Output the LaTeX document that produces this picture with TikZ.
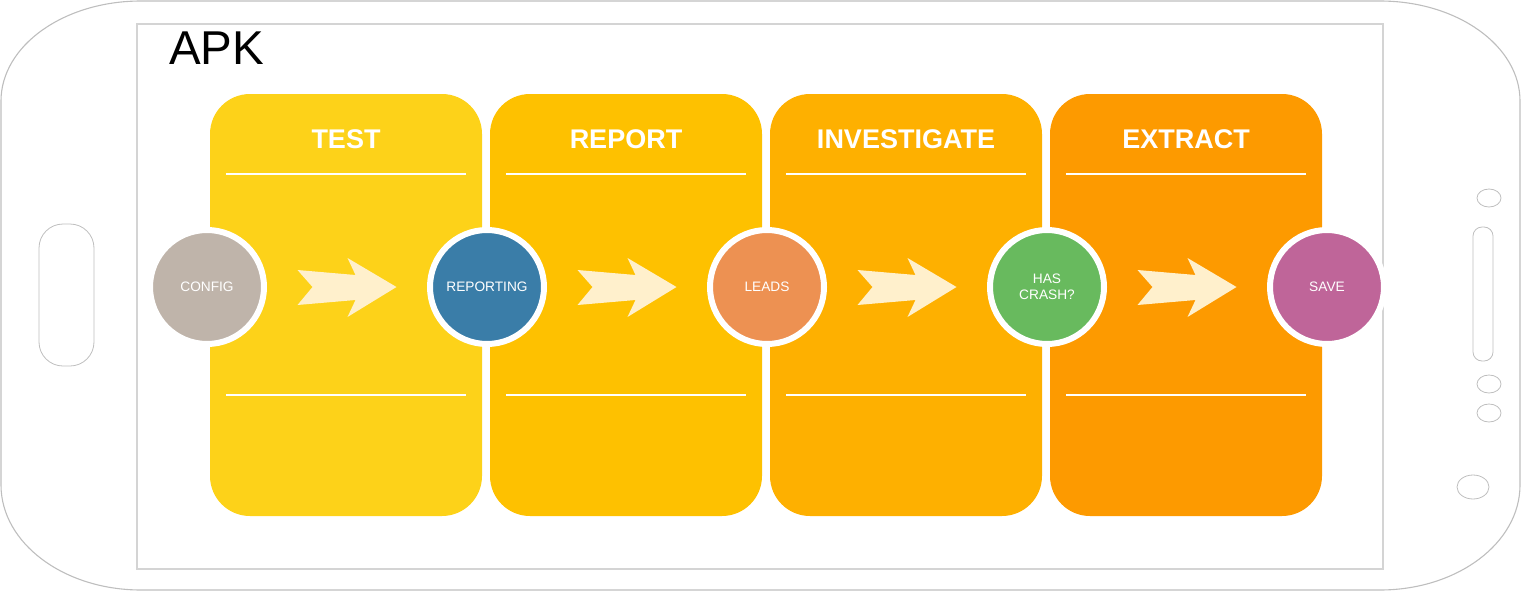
\documentclass[tikz,border=0pt]{standalone}
\usepackage{fontspec}
\setmainfont{Liberation Sans}
\usetikzlibrary{positioning,calc}

\definecolor{testcol}{RGB}{253,210,25}
\definecolor{reportcol}{RGB}{254,193,0}
\definecolor{investcol}{RGB}{254,176,0}
\definecolor{extractcol}{RGB}{253,154,0}
\definecolor{arrowcol}{RGB}{255,240,204}
\definecolor{configcol}{RGB}{191,180,170}
\definecolor{reportingcol}{RGB}{58,125,168}
\definecolor{leadscol}{RGB}{237,145,82}
\definecolor{crashcol}{RGB}{104,186,94}
\definecolor{savecol}{RGB}{191,101,153}
\definecolor{phonecol}{RGB}{190,190,190}
\definecolor{screencol}{RGB}{212,212,212}

\begin{document}
\begin{tikzpicture}[
  x=1pt, y=-1pt,
  node distance=166pt,
  phone/.style={draw=phonecol, line width=1.1pt},
  screen/.style={draw=screencol, line width=1.6pt},
  panel/.style={rectangle, rounded corners=40pt, minimum width=272pt, minimum height=422pt, inner sep=0pt, outer sep=0pt},
  title/.style={anchor=base, text=white, font=\fontsize{27}{32}\selectfont\bfseries},
  rule/.style={draw=white, line width=1.8pt},
  stage/.style={circle, draw=white, line width=6pt, minimum size=114pt, inner sep=0pt, outer sep=0pt, text=white, align=center, font=\fontsize{13.7}{16}\selectfont},
  chevron/.pic={
    \fill[arrowcol] (-49.5,-17) -- (8.5,-12) -- (0.5,-29) -- (49.5,0) -- (0.5,30) -- (8.5,13) -- (-49.5,18) -- (-34.5,0) -- cycle;
  }
  ]
  \useasboundingbox (0,0) rectangle (1521,592);

  % phone body and buttons
  \draw[phone] (1,101) .. controls (1,45.8) and (63.7,1) .. (141,1) -- (1380,1)
    .. controls (1457.3,1) and (1520,45.8) .. (1520,101) -- (1520,485)
    .. controls (1520,543) and (1457.3,590) .. (1380,590) -- (141,590)
    .. controls (63.7,590) and (1,543) .. (1,485) -- cycle;
  \draw[phone, line width=0.8pt, rounded corners=24pt] (39,224) rectangle (94,366);
  \draw[phone, line width=0.8pt, rounded corners=9pt] (1473,227) rectangle (1493,361);
  \draw[phone, line width=0.8pt] (1489,198) ellipse[x radius=12pt, y radius=9pt];
  \draw[phone, line width=0.8pt] (1489,384) ellipse[x radius=12pt, y radius=9pt];
  \draw[phone, line width=0.8pt] (1489,413) ellipse[x radius=12pt, y radius=9pt];
  \draw[phone, line width=0.8pt] (1473,487) ellipse[x radius=16pt, y radius=12pt];
  \draw[screen] (137,24) rectangle (1383,569);
  \node[anchor=base west, inner sep=0pt, font=\fontsize{47.5}{56}\selectfont] (apk) at (169,64) {APK};

  % panels
  \node[panel, fill=testcol, anchor=north west] (test) at (210,94) {};
  \node[panel, fill=reportcol, right=8pt of test] (report) {};
  \node[panel, fill=investcol, right=8pt of report] (invest) {};
  \node[panel, fill=extractcol, right=8pt of invest] (extract) {};

  \node[title] at ([yshift=-54pt]test.north) {TEST};
  \node[title] at ([yshift=-54pt]report.north) {REPORT};
  \node[title] at ([yshift=-54pt]invest.north) {INVESTIGATE};
  \node[title] at ([yshift=-54pt]extract.north) {EXTRACT};

  \draw[rule] ([xshift=16pt,yshift=-80pt]test.north west) -- ([xshift=-16pt,yshift=-80pt]test.north east);
  \draw[rule] ([xshift=16pt,yshift=-301pt]test.north west) -- ([xshift=-16pt,yshift=-301pt]test.north east);
  \draw[rule] ([xshift=16pt,yshift=-80pt]report.north west) -- ([xshift=-16pt,yshift=-80pt]report.north east);
  \draw[rule] ([xshift=16pt,yshift=-301pt]report.north west) -- ([xshift=-16pt,yshift=-301pt]report.north east);
  \draw[rule] ([xshift=16pt,yshift=-80pt]invest.north west) -- ([xshift=-16pt,yshift=-80pt]invest.north east);
  \draw[rule] ([xshift=16pt,yshift=-301pt]invest.north west) -- ([xshift=-16pt,yshift=-301pt]invest.north east);
  \draw[rule] ([xshift=16pt,yshift=-80pt]extract.north west) -- ([xshift=-16pt,yshift=-80pt]extract.north east);
  \draw[rule] ([xshift=16pt,yshift=-301pt]extract.north west) -- ([xshift=-16pt,yshift=-301pt]extract.north east);

  % stages
  \node[stage, fill=configcol] (config) at (207,287) {CONFIG};
  \node[stage, fill=reportingcol, right=of config] (reporting) {REPORTING};
  \node[stage, fill=leadscol, right=of reporting] (leads) {LEADS};
  \node[stage, fill=crashcol, right=of leads] (crash) {HAS\\CRASH?};
  \node[stage, fill=savecol, right=of crash] (save) {SAVE};

  % arrows between stages
  \pic at ($(config)!0.5!(reporting)$) {chevron};
  \pic at ($(reporting)!0.5!(leads)$) {chevron};
  \pic at ($(leads)!0.5!(crash)$) {chevron};
  \pic at ($(crash)!0.5!(save)$) {chevron};
\end{tikzpicture}
\end{document}
